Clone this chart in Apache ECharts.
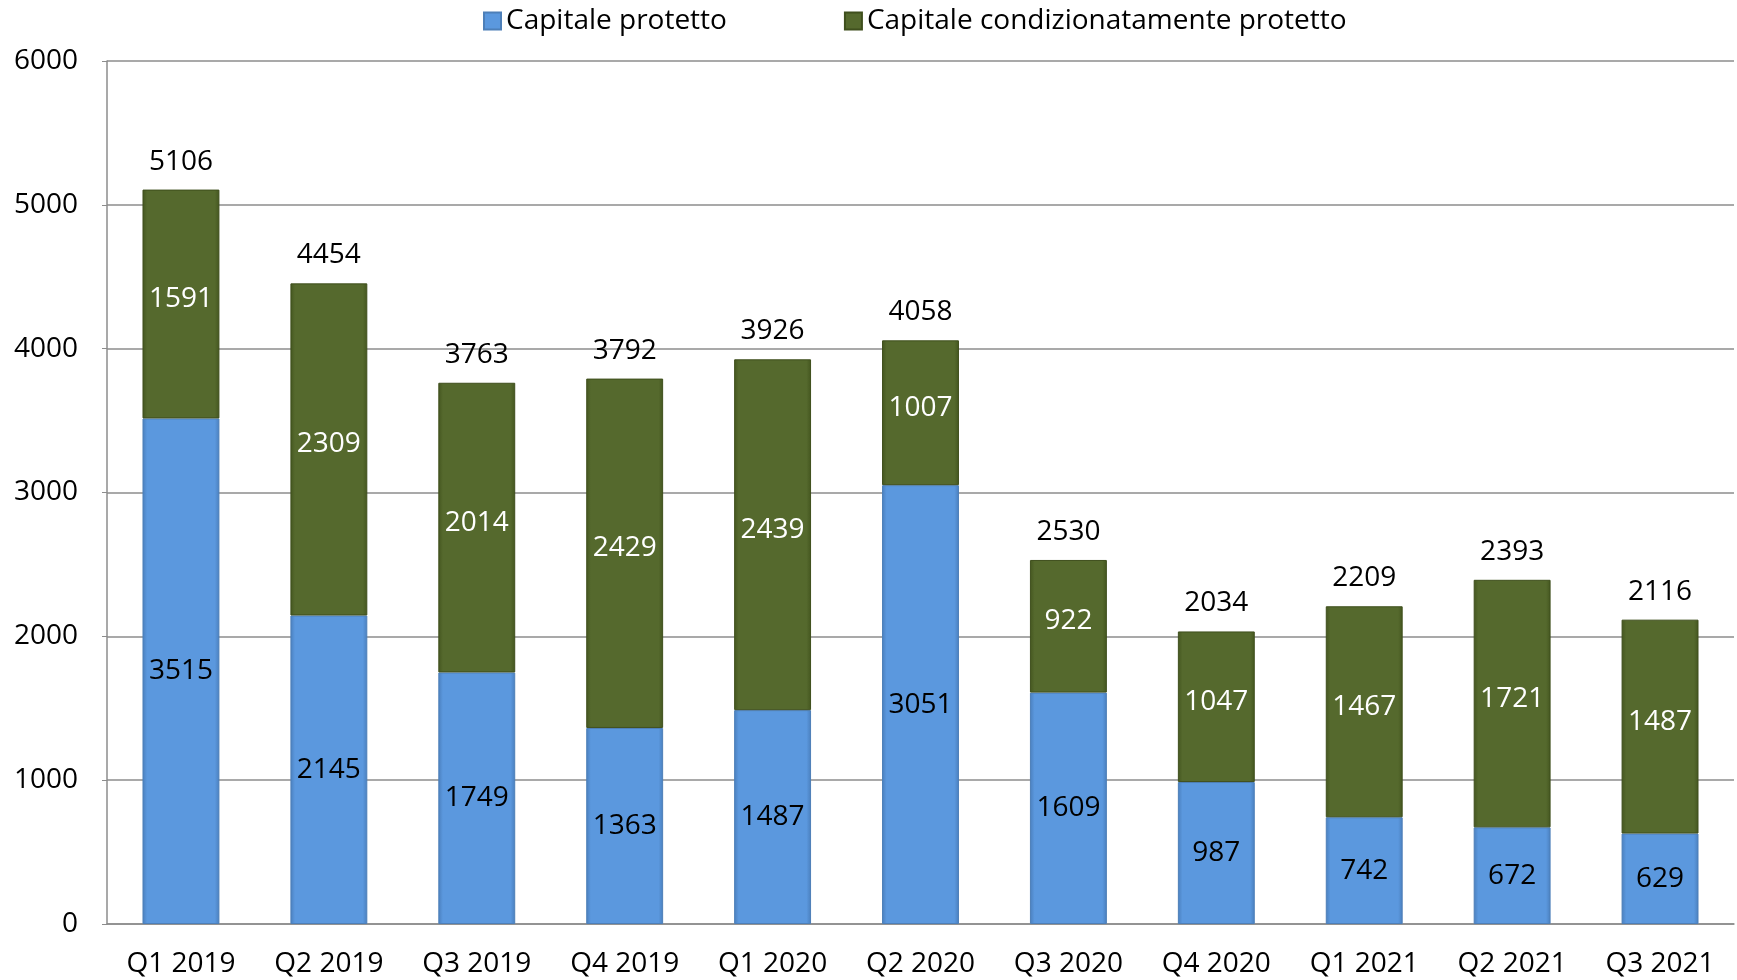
<!DOCTYPE html>
<html>
<head>
<meta charset="utf-8">
<script src="https://cdn.jsdelivr.net/npm/echarts@6/dist/echarts.min.js"></script>
<style>
  html, body { margin: 0; padding: 0; background: #fff; }
  #chart { width: 1737px; height: 980px; }
</style>
</head>
<body>
<div id="chart"></div>
<script>
const categories = ['Q1 2019', 'Q2 2019', 'Q3 2019', 'Q4 2019', 'Q1 2020', 'Q2 2020', 'Q3 2020', 'Q4 2020', 'Q1 2021', 'Q2 2021', 'Q3 2021']
const protetto = [3515, 2145, 1749, 1363, 1487, 3051, 1609, 987, 742, 672, 629]
const condizionato = [1591, 2309, 2014, 2429, 2439, 1007, 922, 1047, 1467, 1721, 1487]
const totals = [5106, 4454, 3763, 3792, 3926, 4058, 2530, 2034, 2209, 2393, 2116]

const font = '"Open Sans", "Noto Sans", sans-serif'

// bevel-ish look: darker edges left/right
function barFill(edge, mid) {
  return {
    type: 'linear', x: 0, y: 0, x2: 1, y2: 0,
    colorStops: [
      { offset: 0, color: edge },
      { offset: 0.06, color: mid },
      { offset: 0.94, color: mid },
      { offset: 1, color: edge }
    ]
  }
}

const chart = echarts.init(document.getElementById('chart'))
chart.setOption({
  animation: false,
  textStyle: { fontFamily: font },
  legend: {
    top: 2,
    left: 478,
    icon: 'rect',
    itemWidth: 17,
    itemHeight: 17,
    itemGap: 117,
    textStyle: { fontFamily: font, fontSize: 28, color: '#000' },
    data: ['Capitale protetto', 'Capitale condizionatamente protetto']
  },
  grid: { left: 107, right: 3, top: 61, bottom: 56 },
  xAxis: {
    type: 'category',
    data: categories,
    axisLine: { lineStyle: { color: '#8c8c8c', width: 1.5 } },
    axisTick: { show: false },
    axisLabel: { color: '#000', fontSize: 28, fontFamily: font, margin: 26 }
  },
  yAxis: {
    type: 'value',
    min: 0,
    max: 6000,
    interval: 1000,
    axisLine: { show: true, lineStyle: { color: '#8c8c8c', width: 1.5 } },
    axisTick: { show: true, length: 5, lineStyle: { color: '#8c8c8c' } },
    axisLabel: { color: '#000', fontSize: 28, fontFamily: font, margin: 29, formatter: v => String(v) },
    splitLine: { lineStyle: { color: '#8c8c8c', width: 1.5 } }
  },
  series: [
    {
      name: 'Capitale protetto',
      type: 'bar',
      stack: 'tot',
      data: protetto,
      barWidth: '52%',
      itemStyle: {
        color: barFill('#4a7fbd', '#5b98de'),
        borderColor: '#4d7fb8',
        borderWidth: 1
      },
      label: { show: true, position: 'inside', color: '#000', fontSize: 28, fontFamily: font }
    },
    {
      name: 'Capitale condizionatamente protetto',
      type: 'bar',
      stack: 'tot',
      data: condizionato,
      barWidth: '52%',
      itemStyle: {
        color: barFill('#44561f', '#55692d'),
        borderColor: '#3f4f1d',
        borderWidth: 1
      },
      label: { show: true, position: 'inside', offset: [0, -5], color: '#fff', fontSize: 28, fontFamily: font }
    },
    {
      name: 'Totale',
      type: 'bar',
      stack: 'tot',
      data: totals.map(() => 0),
      barWidth: '52%',
      itemStyle: { color: 'transparent' },
      label: {
        show: true,
        position: 'top',
        distance: 14,
        color: '#000',
        fontSize: 28,
        fontFamily: font,
        formatter: p => totals[p.dataIndex]
      },
      tooltip: { show: false }
    }
  ]
})
</script>
</body>
</html>
